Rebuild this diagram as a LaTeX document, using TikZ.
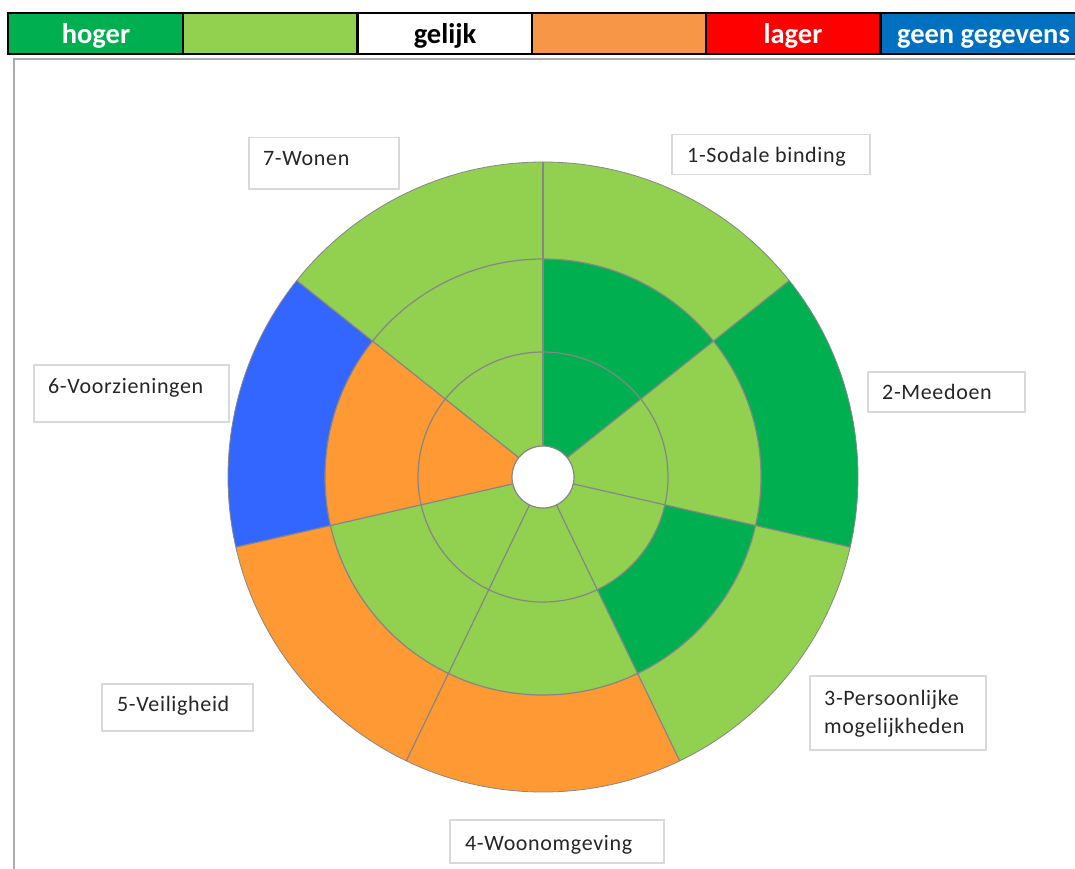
\documentclass[tikz,border=0pt]{standalone}
\usepackage{fontspec}
\setmainfont{Carlito}
\newfontfamily\lblfont[LetterSpace=3]{Carlito}
\definecolor{dg}{HTML}{00B050}
\definecolor{lg}{HTML}{92D050}
\definecolor{lorange}{HTML}{F79646}
\definecolor{porange}{HTML}{FF9933}
\definecolor{pblue}{HTML}{3366FF}
\definecolor{lblue}{HTML}{0070C0}
\definecolor{lred}{HTML}{FF0000}
\definecolor{sepgray}{HTML}{868686}
\definecolor{boxgray}{HTML}{D9D9D9}
\definecolor{framegray}{HTML}{ABABAB}
\begin{document}
\begin{tikzpicture}[x=1pt,y=-1pt,
  legcell/.style={draw=black, line width=2.5pt},
  legtext/.style={anchor=base, inner sep=0pt, font=\fontsize{28.5}{32}\selectfont\bfseries},
  lblbox/.style={draw=boxgray, line width=1.5pt, fill=white, anchor=north west, inner sep=0pt},
  lbltext/.style={anchor=base west, inner sep=0pt, text=black!85, font=\lblfont\fontsize{22}{26}\selectfont},
  sepline/.style={draw=sepgray, line width=1.2pt}]
\useasboundingbox (0,0) rectangle (1075,869);
\fill[white] (0,0) rectangle (1075,869);

% frame of the chart area
\draw[framegray, line width=1.8pt] (14,885) -- (14,59) -- (1090,59);

% legend bar
\filldraw[legcell, fill=dg] (8,13) rectangle (183,54);
\filldraw[legcell, fill=lg] (183,13) rectangle (357.5,54);
\filldraw[legcell, fill=white] (357.5,13) rectangle (532,54);
\filldraw[legcell, fill=lorange] (532,13) rectangle (706,54);
\filldraw[legcell, fill=lred] (706,13) rectangle (880.5,54);
\filldraw[legcell, fill=lblue] (880.5,13) rectangle (1090,54);
\node[legtext, text=white] (lhoger) at (96,44) {hoger};
\node[legtext, text=black] (lgelijk) at (445,44) {gelijk};
\node[legtext, text=white] (llager) at (793,44) {lager};
\node[legtext, text=white] (lgeen) at (983.5,44) {geen gegevens};

% doughnut chart
\begin{scope}[shift={(543,477)}, y=1pt]
\foreach \i/\ci/\cm/\co in {1/dg/dg/lg, 2/lg/lg/dg, 3/lg/dg/lg, 4/lg/lg/porange, 5/lg/lg/porange, 6/porange/porange/pblue, 7/lg/lg/lg}{
  \pgfmathsetmacro\a{90-(\i-1)*360/7}
  \pgfmathsetmacro\b{90-\i*360/7}
  \fill[\ci] (\a:31) arc[start angle=\a, end angle=\b, radius=31] -- (\b:125) arc[start angle=\b, end angle=\a, radius=125] -- cycle;
  \fill[\cm] (\a:125) arc[start angle=\a, end angle=\b, radius=125] -- (\b:218) arc[start angle=\b, end angle=\a, radius=218] -- cycle;
  \fill[\co] (\a:218) arc[start angle=\a, end angle=\b, radius=218] -- (\b:315) arc[start angle=\b, end angle=\a, radius=315] -- cycle;
}
\foreach \k in {0,...,6}{
  \pgfmathsetmacro\a{90-\k*360/7}
  \draw[sepline] (\a:31) -- (\a:315);
}
\draw[sepline] (0,0) circle[radius=31];
\draw[sepline] (0,0) circle[radius=125];
\draw[sepline] (0,0) circle[radius=218];
\draw[sepgray, line width=0.8pt] (0,0) circle[radius=315];
\end{scope}

% category labels
\node[lblbox, minimum width=150pt, minimum height=51pt] (b7) at (248,137) {};
\node[lbltext] (t7) at (263,166) {7-Wonen};
\node[lblbox, minimum width=198pt, minimum height=40pt] (b1) at (671,134) {};
\node[lbltext] (t1) at (687,163) {1-Sodale binding};
\node[lblbox, minimum width=157pt, minimum height=40pt] (b2) at (867,371) {};
\node[lbltext] (t2) at (882,399) {2-Meedoen};
\node[lblbox, minimum width=195pt, minimum height=57pt] (b6) at (33,364) {};
\node[lbltext] (t6) at (48,393) {6-Voorzieningen};
\node[lblbox, minimum width=151pt, minimum height=47pt] (b5) at (101,683) {};
\node[lbltext] (t5) at (117,711) {5-Veiligheid};
\node[lblbox, minimum width=176pt, minimum height=74pt] (b3) at (809,675) {};
\node[lbltext] (t3a) at (824,705) {3-Persoonlijke};
\node[lbltext] (t3b) at (824,733) {mogelijkheden};
\node[lblbox, minimum width=214pt, minimum height=43pt] (b4) at (449,819) {};
\node[lbltext] (t4) at (465,850) {4-Woonomgeving};
\end{tikzpicture}
\end{document}
